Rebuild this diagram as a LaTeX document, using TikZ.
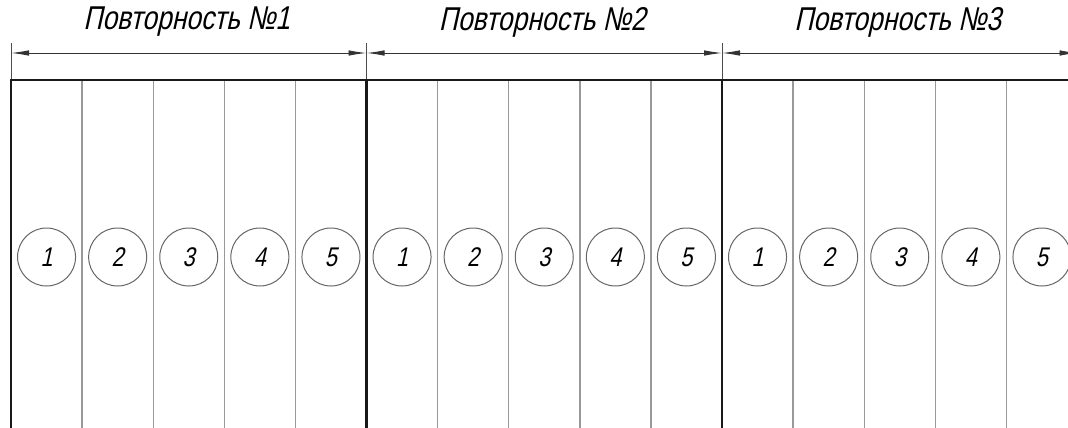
\documentclass[tikz,border=0pt]{standalone}
\usepackage{fontspec}
\newfontfamily\gostfont[FakeSlant=0.22,FakeStretch=0.8]{Liberation Sans}
\usetikzlibrary{arrows.meta,positioning,calc}

\begin{document}
\begin{tikzpicture}[x=1pt, y=-1pt, font=\gostfont,
  sep/.style={draw=black!40, line width=1.4pt},
  frame/.style={draw=black!90, line width=2.6pt},
  ext/.style={draw=black!70, line width=0.9pt},
  dim/.style={draw=black!80, line width=0.9pt,
    {Latex[length=18pt,width=5.5pt]}-{Latex[length=18pt,width=5.5pt]}},
  plot/.style={draw=black!60, circle, line width=1pt, minimum size=58pt,
    inner sep=0pt, font=\gostfont\fontsize{27}{27}\selectfont},
  title/.style={font=\gostfont\fontsize{33}{33}\selectfont}]
\useasboundingbox (0,0) rectangle (1068,428);
\clip (0,0) rectangle (1068,428);

% repetitions
\foreach \r in {0,1,2,3}
  \coordinate (d\r) at ({11+\r*355.5},53);

\foreach \r in {1,2,3} {
  \node[title] (t\r) at ({9+(\r-0.5)*355.5},22) {Повторность №\r};
  \foreach \k in {1,...,4}
    \draw[sep] ({11+(\r-1)*355.5+\k*71.1},80) -- ({11+(\r-1)*355.5+\k*71.1},428);
  \foreach \k in {1,...,5}
    \node[plot] (p\r\k) at ({11+(\r-1)*355.5+(\k-0.5)*71.1},257) {\k};
}

% extension and dimension lines
\foreach \r in {0,1,2,3}
  \draw[ext] ($(d\r)+(0,-10)$) -- ($(d\r)+(0,27)$);
\draw[dim] (d0) -- (d1);
\draw[dim] (d1) -- (d2);
\draw[dim] (d2) -- (d3);

% plot frame
\draw[frame] (11,428) -- (11,80) -- (1080,80);
\draw[frame] (366.5,80) -- (366.5,428);
\draw[frame] (722,80) -- (722,428);
\end{tikzpicture}
\end{document}
